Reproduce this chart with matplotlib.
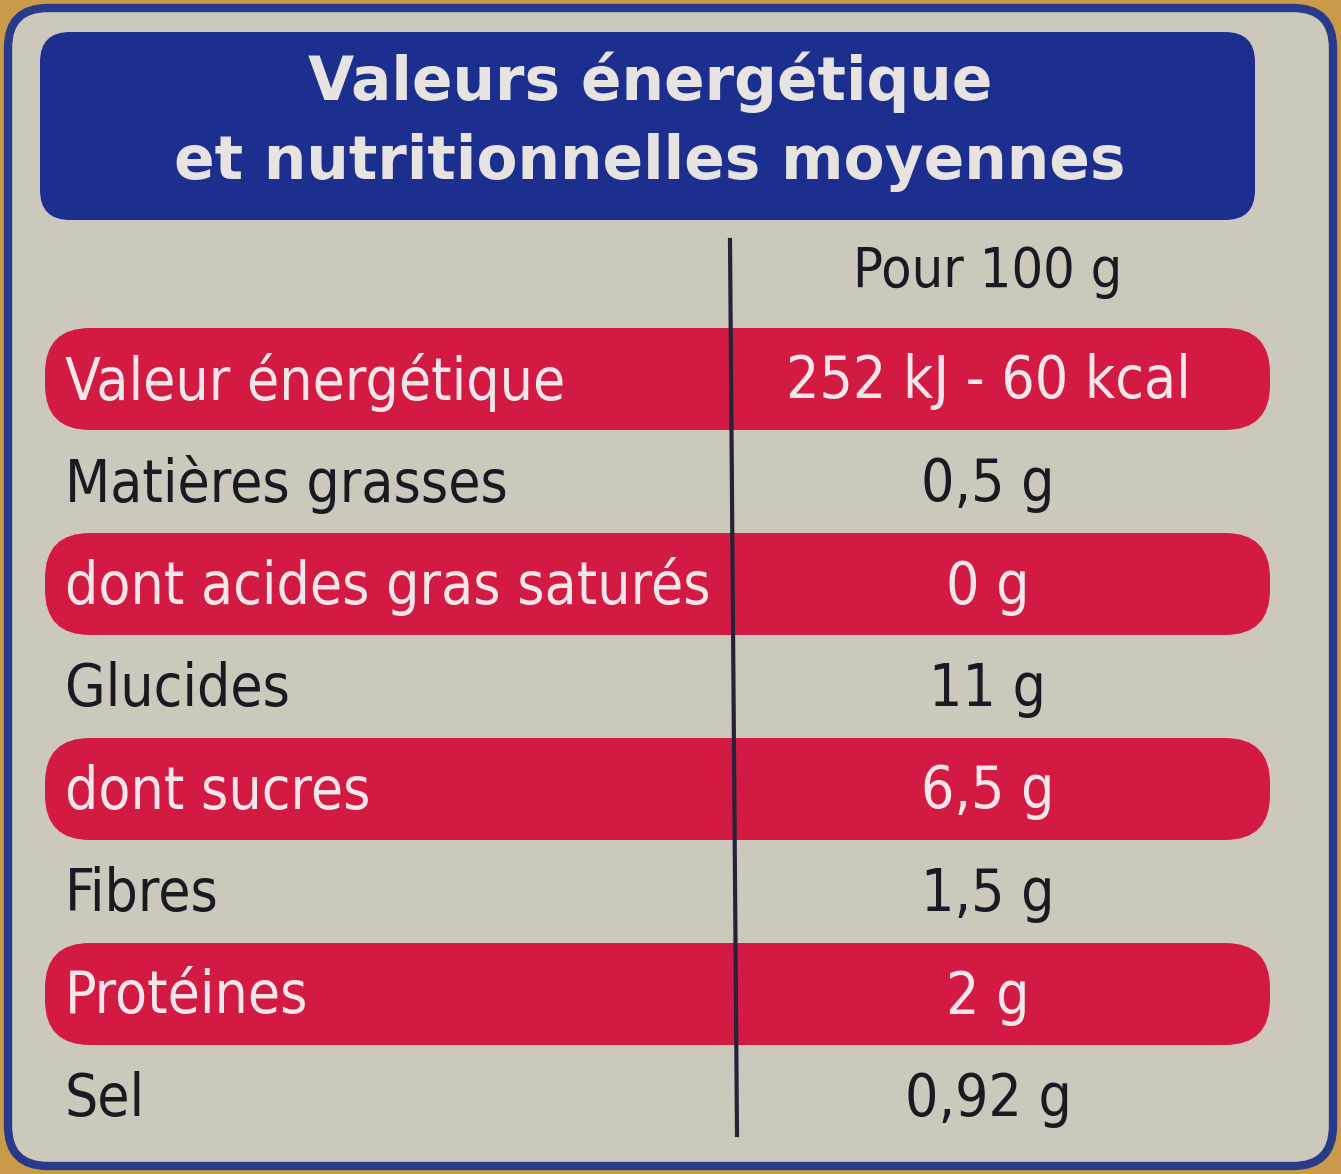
import matplotlib
matplotlib.use("Agg")
import matplotlib.pyplot as plt
from matplotlib.patches import FancyBboxPatch

title_lines = ["Valeurs énergétique", "et nutritionnelles moyennes"]
header = "Pour 100 g"
labels = ["Valeur énergétique", "Matières grasses", "dont acides gras saturés",
          "Glucides", "dont sucres", "Fibres", "Protéines", "Sel"]
values = ["252 kJ - 60 kcal", "0,5 g", "0 g", "11 g", "6,5 g", "1,5 g", "2 g", "0,92 g"]
highlight = [True, False, True, False, True, False, True, False]

W, H = 1341, 1174
fig = plt.figure(figsize=(W/100, H/100), dpi=100)
ax = fig.add_axes([0, 0, 1, 1])
ax.set_xlim(0, W); ax.set_ylim(H, 0); ax.axis("off")
fig.patch.set_facecolor("#c99a4a")

ax.add_patch(FancyBboxPatch((8, 8), W-16, H-16, boxstyle="round,pad=0,rounding_size=40",
                            fc="#cdc8bc", ec="#2a3a8a", lw=6))
ax.add_patch(FancyBboxPatch((40, 32), 1215, 188, boxstyle="round,pad=0,rounding_size=30",
                            fc="#1d2f8e", ec="none"))
ax.text(650, 82, title_lines[0], color="#e6e3e0", fontsize=43, fontweight="bold",
        ha="center", va="center", family="DejaVu Sans")
ax.text(650, 163, title_lines[1], color="#e6e3e0", fontsize=43, fontweight="bold",
        ha="center", va="center", family="DejaVu Sans")

row_y0, row_h = 380, 102.5
vx = 988
ax.text(vx, 272, header, fontsize=40, ha="center", va="center", color="#1a1a22",
        family="DejaVu Sans", fontstretch="condensed")
for i, (lab, val, hl) in enumerate(zip(labels, values, highlight)):
    y = row_y0 + i*row_h
    col = "#1a1a22"
    if hl:
        ax.add_patch(FancyBboxPatch((45, y-52), 1225, 102, boxstyle="round,pad=0,rounding_size=45",
                                    fc="#d31a42", ec="none"))
        col = "#f2e6ea"
    ax.text(65, y+2, lab, fontsize=42, ha="left", va="center", color=col,
            family="DejaVu Sans", fontstretch="condensed")
    ax.text(vx, y+2, val, fontsize=42, ha="center", va="center", color=col,
            family="DejaVu Sans", fontstretch="condensed")
ax.plot([730, 737], [240, 1135], color="#25223a", lw=3)
fig.savefig("out.png", dpi=100, facecolor=fig.get_facecolor())
